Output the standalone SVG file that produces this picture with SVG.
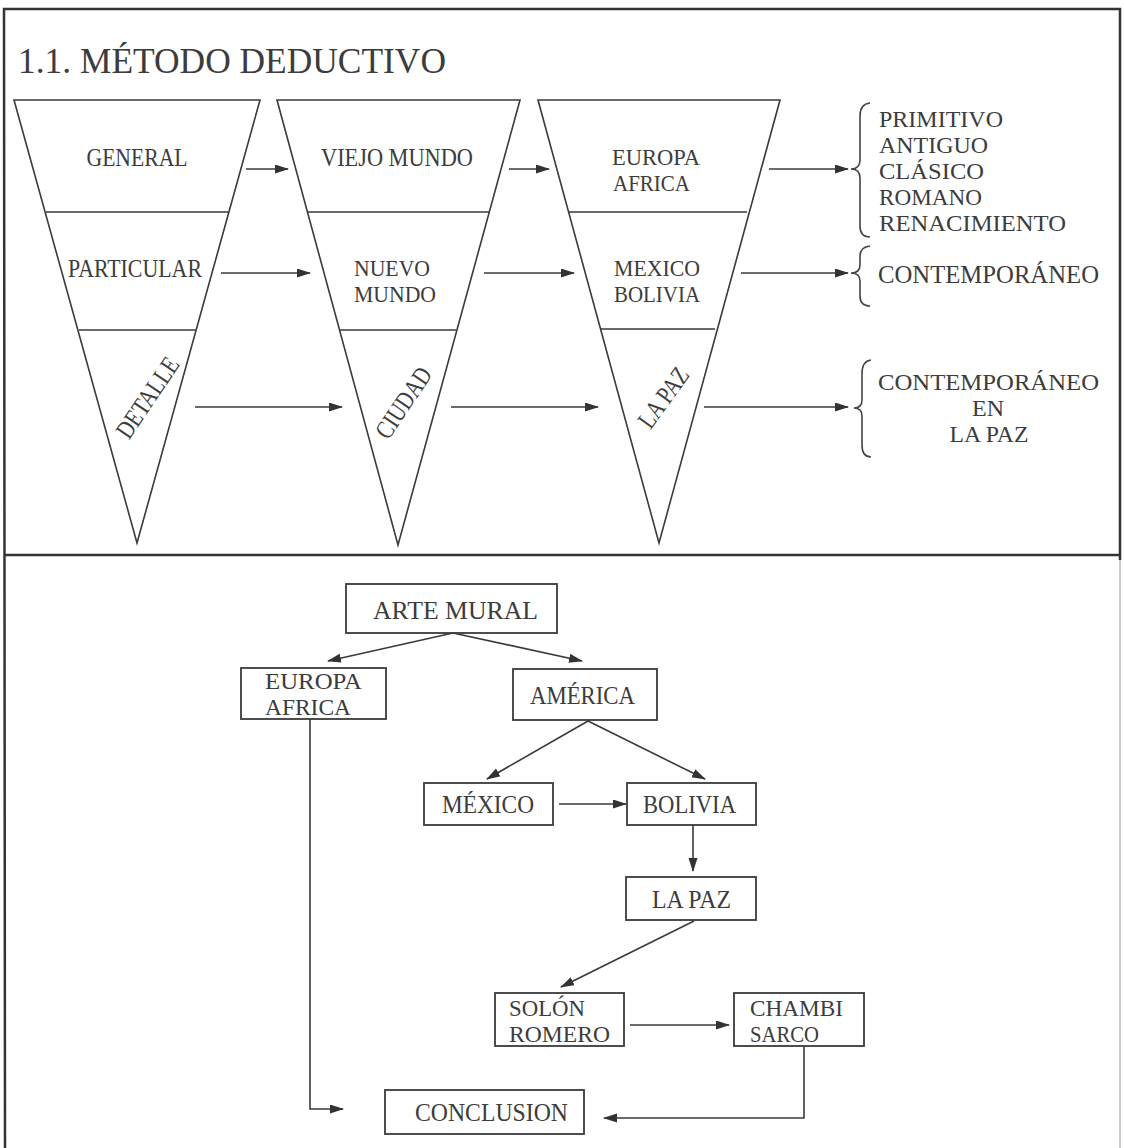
<svg xmlns="http://www.w3.org/2000/svg" width="1124" height="1148" viewBox="0 0 1124 1148">
<style>
text{font-family:"Liberation Serif","DejaVu Serif",serif;fill:#3c3c3c;font-size:26px}
.s{font-size:23.4px}
.t{font-size:35px}
.ln{fill:none;stroke:#3a3a3a;stroke-width:1.6}
.bx{fill:#fff;stroke:#3a3a3a;stroke-width:1.8}
.ar{fill:none;stroke:#3a3a3a;stroke-width:1.6;marker-end:url(#ah)}
.br{fill:none;stroke:#444;stroke-width:1.6}
.fr{fill:none;stroke:#333;stroke-width:2.5}
</style>
<defs>
<marker id="ah" markerUnits="userSpaceOnUse" markerWidth="14" markerHeight="10" refX="13" refY="4.5" orient="auto">
<path d="M0,0 L14,4.5 L0,9 z" fill="#333"/>
</marker>
</defs>
<rect width="1124" height="1148" fill="#fff"/>
<g id="frame">
<path class="fr" d="M5,1148 L4,9 L1120,9 L1120,560"/>
<path d="M1120,560 L1120,1148" fill="none" stroke="#bbb" stroke-width="1.5"/>
<path class="fr" d="M5,555 L1120,555"/>
</g>
<g id="title"><text class="t" x="18" y="73" textLength="428" lengthAdjust="spacingAndGlyphs">1.1. MÉTODO DEDUCTIVO</text></g>

<g id="tri1">
<path class="ln" d="M14,100 L260,100 L137,543 Z M46,212 L229,212 M79,330 L196,330"/>
<text x="137" y="166" text-anchor="middle" textLength="101" lengthAdjust="spacingAndGlyphs">GENERAL</text>
<text x="135" y="277" text-anchor="middle" textLength="134" lengthAdjust="spacingAndGlyphs">PARTICULAR</text>
<text transform="translate(148,398) rotate(-56)" x="0" y="8" text-anchor="middle" textLength="92" lengthAdjust="spacingAndGlyphs">DETALLE</text>
</g>
<g id="tri2">
<path class="ln" d="M277,100 L520,100 L398,545 Z M308,212 L489,212 M340,330 L456,330"/>
<text x="397" y="166" text-anchor="middle" textLength="152" lengthAdjust="spacingAndGlyphs">VIEJO MUNDO</text>
<text class="s" x="354" y="276" textLength="76" lengthAdjust="spacingAndGlyphs">NUEVO</text>
<text class="s" x="354" y="302" textLength="82" lengthAdjust="spacingAndGlyphs">MUNDO</text>
<text transform="translate(404,403) rotate(-56)" x="0" y="8" text-anchor="middle" textLength="80" lengthAdjust="spacingAndGlyphs">CIUDAD</text>
</g>
<g id="tri3">
<path class="ln" d="M538,100 L780,100 L659,543 Z M569,212 L747,212 M601,329 L715,329"/>
<text class="s" x="612" y="165" textLength="88" lengthAdjust="spacingAndGlyphs">EUROPA</text>
<text class="s" x="613" y="191" textLength="77" lengthAdjust="spacingAndGlyphs">AFRICA</text>
<text class="s" x="614" y="276" textLength="86" lengthAdjust="spacingAndGlyphs">MEXICO</text>
<text class="s" x="614" y="302" textLength="86" lengthAdjust="spacingAndGlyphs">BOLIVIA</text>
<text transform="translate(664,398) rotate(-54)" x="0" y="8" text-anchor="middle" textLength="68" lengthAdjust="spacingAndGlyphs">LA PAZ</text>
</g>

<g id="periods1">
<path class="br" d="M870,103 Q860,104 860,116 L860,160 Q860,169 851,169 Q860,169 860,178 L860,226 Q860,237 870,237"/>
<text class="s" x="879" y="127" textLength="124" lengthAdjust="spacingAndGlyphs">PRIMITIVO</text>
<text class="s" x="879" y="153" textLength="109" lengthAdjust="spacingAndGlyphs">ANTIGUO</text>
<text class="s" x="879" y="179" textLength="105" lengthAdjust="spacingAndGlyphs">CLÁSICO</text>
<text class="s" x="879" y="205" textLength="103" lengthAdjust="spacingAndGlyphs">ROMANO</text>
<text class="s" x="879" y="231" textLength="187" lengthAdjust="spacingAndGlyphs">RENACIMIENTO</text>
</g>
<g id="periods2">
<path class="br" d="M870,246 Q860,247 860,256 L860,265 Q860,273 851,273 Q860,273 860,281 L860,296 Q860,306 870,306"/>
<text x="878" y="283" textLength="221" lengthAdjust="spacingAndGlyphs">CONTEMPORÁNEO</text>
</g>
<g id="periods3">
<path class="br" d="M871,360 Q862,361 862,374 L862,400 Q862,408 854,408 Q862,408 862,416 L862,445 Q862,457 871,457"/>
<text class="s" x="878" y="390" textLength="221" lengthAdjust="spacingAndGlyphs">CONTEMPORÁNEO</text>
<text class="s" x="988" y="416" text-anchor="middle" textLength="32" lengthAdjust="spacingAndGlyphs">EN</text>
<text class="s" x="989" y="442" text-anchor="middle" textLength="79" lengthAdjust="spacingAndGlyphs">LA PAZ</text>
</g>

<g id="top-connectors">
<path class="ar" d="M246,169 L288,169"/>
<path class="ar" d="M509,169 L549,169"/>
<path class="ar" d="M769,169 L848,169"/>
<path class="ar" d="M221,273 L310,273"/>
<path class="ar" d="M484,273 L574,273"/>
<path class="ar" d="M741,273 L848,273"/>
<path class="ar" d="M195,407 L342,407"/>
<path class="ar" d="M451,407 L598,407"/>
<path class="ar" d="M704,407 L848,407"/>
</g>

<g id="n-arte">
<rect class="bx" x="346" y="584" width="211" height="49"/>
<text x="373" y="619" textLength="165" lengthAdjust="spacingAndGlyphs">ARTE MURAL</text>
</g>
<g id="n-europa">
<rect class="bx" x="241" y="668" width="145" height="51"/>
<text class="s" x="265" y="689" textLength="97" lengthAdjust="spacingAndGlyphs">EUROPA</text>
<text class="s" x="265" y="715" textLength="86" lengthAdjust="spacingAndGlyphs">AFRICA</text>
</g>
<g id="n-america">
<rect class="bx" x="513" y="669" width="144" height="51"/>
<text x="530" y="704" textLength="105" lengthAdjust="spacingAndGlyphs">AMÉRICA</text>
</g>
<g id="n-mexico">
<rect class="bx" x="424" y="783" width="129" height="42"/>
<text x="442" y="813" textLength="92" lengthAdjust="spacingAndGlyphs">MÉXICO</text>
</g>
<g id="n-bolivia">
<rect class="bx" x="627" y="783" width="129" height="42"/>
<text x="643" y="813" textLength="93" lengthAdjust="spacingAndGlyphs">BOLIVIA</text>
</g>
<g id="n-lapaz">
<rect class="bx" x="626" y="877" width="130" height="43"/>
<text x="652" y="908" textLength="79" lengthAdjust="spacingAndGlyphs">LA PAZ</text>
</g>
<g id="n-solon">
<rect class="bx" x="495" y="993" width="129" height="53"/>
<text class="s" x="509" y="1016" textLength="76" lengthAdjust="spacingAndGlyphs">SOLÓN</text>
<text class="s" x="509" y="1042" textLength="101" lengthAdjust="spacingAndGlyphs">ROMERO</text>
</g>
<g id="n-chambi">
<rect class="bx" x="734" y="993" width="130" height="53"/>
<text class="s" x="750" y="1016" textLength="93" lengthAdjust="spacingAndGlyphs">CHAMBI</text>
<text class="s" x="750" y="1042" textLength="69" lengthAdjust="spacingAndGlyphs">SARCO</text>
</g>
<g id="n-conclusion">
<rect class="bx" x="385" y="1090" width="199" height="44"/>
<text x="415" y="1121" textLength="153" lengthAdjust="spacingAndGlyphs">CONCLUSION</text>
</g>

<g id="connectors">
<path class="ar" d="M453,633 L328,661"/>
<path class="ar" d="M453,633 L582,661"/>
<path class="ar" d="M588,721 L487,779"/>
<path class="ar" d="M588,721 L705,779"/>
<path class="ar" d="M559,804 L626,804"/>
<path class="ar" d="M693,825 L693,871"/>
<path class="ar" d="M694,921 L561,987"/>
<path class="ar" d="M630,1025 L729,1025"/>
<path class="ar" d="M804,1046 L804,1118 L604,1118"/>
<path class="ar" d="M310,719 L310,1109 L343,1109"/>
</g>
</svg>
